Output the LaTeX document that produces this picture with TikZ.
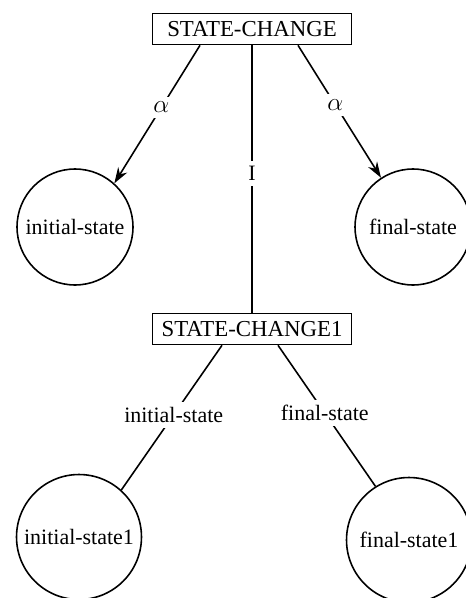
\documentclass[tikz,border=0pt]{standalone}
\usepackage{fontspec}
\setmainfont{Liberation Serif}
\usetikzlibrary{arrows.meta}
\tikzset{
	frame/.style={draw, line width=0.9pt, minimum width=3.98cm, minimum height=0.62cm, inner sep=2pt, font=\fontsize{13}{15}\selectfont},
	state/.style={draw, circle, line width=0.9pt, minimum size=2.32cm, inner sep=0pt, font=\fontsize{12.5}{15}\selectfont},
	bigstate/.style={state, minimum size=2.5cm},
	lbl/.style={fill=white, inner sep=3pt, font=\fontsize{12.5}{15}\selectfont},
	greek/.style={lbl, font=\fontsize{15}{17}\selectfont},
	link/.style={line width=0.9pt},
	arr/.style={link, -{Stealth[length=9pt, width=6pt]}}
}
\begin{document}
\begin{tikzpicture}[x=0.02cm, y=-0.02cm]
	\useasboundingbox (0,0) rectangle (466,598);
	% upper level
	\node[frame] (sc) at (252,29) {STATE-CHANGE};
	\node[state] (is) at (75,227) {initial-state};
	\node[state] (fs) at (413,227) {final-state};
	\draw[arr] ([xshift=-1.04cm]sc.south) -- (is.48) node[greek, pos=0.45] {$\alpha$};
	\draw[arr] ([xshift=0.92cm]sc.south) -- (fs.123) node[greek, pos=0.45] {$\alpha$};

	% lower level
	\node[frame] (sc1) at (252,329) {STATE-CHANGE1};
	\draw[link] (sc.south) -- (sc1.north) node[lbl, pos=0.48] {I};
	\node[bigstate] (is1) at (79,537) {initial-state1};
	\node[bigstate] (fs1) at (409,540) {final-state1};
	\draw[link] ([xshift=-0.6cm]sc1.south) -- (is1.48) node[lbl, pos=0.48] {initial-state};
	\draw[link] ([xshift=0.52cm]sc1.south) -- (fs1.122) node[lbl, pos=0.48] {final-state};
\end{tikzpicture}
\end{document}
